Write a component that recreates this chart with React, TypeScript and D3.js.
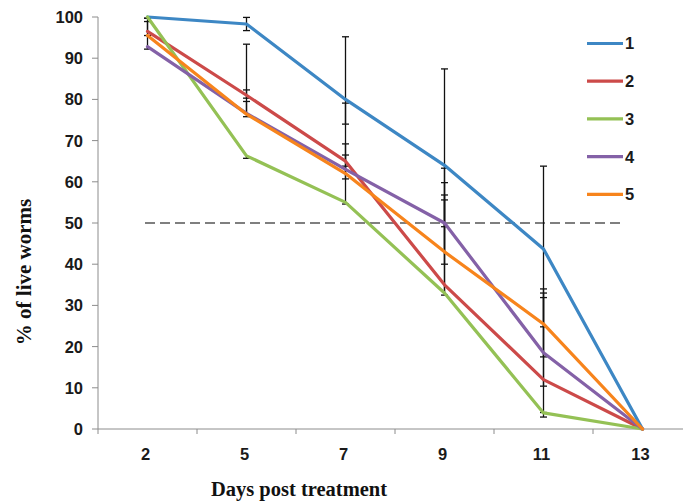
import React from "react";
import * as d3 from "d3";

const days = ["2", "5", "7", "9", "11", "13"];
const yTicks = [0, 10, 20, 30, 40, 50, 60, 70, 80, 90, 100];
const seriesNames = ["1", "2", "3", "4", "5"];
const seriesColors = ["#3d87c4", "#cc4a49", "#94c155", "#8461a7", "#f7841c"];

const s1 = [100, 98.3, 80, 64, 43.7, 0];
const s2 = [96.5, 81, 65, 35, 12, 0];
const s3 = [100, 66.3, 55, 33, 3.9, 0];
const s4 = [92.8, 76.6, 63, 50, 18.5, 0];
const s5 = [95.5, 76.4, 62, 43, 25.5, 0];

const s1Plus = [0, 1.6, 15.2, 23.4, 20.1, 0];
const s1Minus = [0, 1.6, 6, 24, 18.9, 0];
const s2Plus = [2.4, 12.4, 14.1, 20.6, 19.9, 0];
const s2Minus = [0, 0.7, 0, 2.5, 1.6, 0];
const s3Plus = [0, 0, 8.8, 26.8, 0, 0];
const s3Minus = [0.3, 0.6, 0.4, 0, 1, 0];
const s4Plus = [2.7, 5.7, 6.2, 13.3, 14.5, 0];
const s4Minus = [0.6, 0, 0, 0.9, 14.5, 0];
const s5Plus = [4.2, 3.1, 4.5, 13.8, 8.5, 0];
const s5Minus = [0, 0.6, 1.3, 0, 8, 0];

const seriesValues = [s1, s2, s3, s4, s5];
const plusErr = [s1Plus, s2Plus, s3Plus, s4Plus, s5Plus];
const minusErr = [s1Minus, s2Minus, s3Minus, s4Minus, s5Minus];
const threshold = 50;

export default function App() {
  const W = 683;
  const H = 502;
  const left = 98;
  const top = 17;
  const bottom = 429;
  const x = d3.scaleBand<string>().domain(days).range([left, left + 99 * 6]).padding(0);
  const cx = (d: string) => (x(d) as number) + x.bandwidth() / 2;
  const y = d3.scaleLinear().domain([0, 100]).range([bottom, top]);
  const line = d3
    .line<number>()
    .x((_, i) => cx(days[i]))
    .y((v) => y(v));

  const tickFont = "'Liberation Sans', Arial, sans-serif";
  const titleFont = "'Liberation Serif', 'Times New Roman', serif";
  const cap = 3.5;

  return (
    <svg
      width={W}
      height={H}
      style={{ position: "absolute", left: 0, top: 0, background: "#fff" }}
    >
      {/* axes */}
      <line x1={left} x2={left} y1={top} y2={bottom + 5} stroke="#8c8c8c" strokeWidth={1} />
      <line x1={left} x2={W} y1={bottom} y2={bottom} stroke="#8c8c8c" strokeWidth={1} />
      {yTicks.map((t) => (
        <g key={"yt" + t}>
          <line x1={left - 6} x2={left} y1={y(t)} y2={y(t)} stroke="#8c8c8c" strokeWidth={1} />
          <text
            x={83}
            y={y(t)}
            dy="0.36em"
            textAnchor="end"
            fontFamily={tickFont}
            fontWeight="bold"
            fontSize={16.5}
            fill="#1a1a1a"
          >
            {t}
          </text>
        </g>
      ))}
      {days.slice(1).map((d) => (
        <line
          key={"xt" + d}
          x1={x(d) as number}
          x2={x(d) as number}
          y1={bottom}
          y2={bottom + 5}
          stroke="#8c8c8c"
          strokeWidth={1}
        />
      ))}
      {days.map((d) => (
        <text
          key={"xl" + d}
          x={cx(d) - 2}
          y={460}
          textAnchor="middle"
          fontFamily={tickFont}
          fontWeight="bold"
          fontSize={16.5}
          fill="#1a1a1a"
        >
          {d}
        </text>
      ))}
      <text
        x={299}
        y={496}
        textAnchor="middle"
        fontFamily={titleFont}
        fontWeight="bold"
        fontSize={20.5}
        fill="#111"
      >
        Days post treatment
      </text>
      <text
        transform={`translate(31,272) rotate(-90)`}
        textAnchor="middle"
        fontFamily={titleFont}
        fontWeight="bold"
        fontSize={21}
        fill="#111"
      >
        % of live worms
      </text>

      {/* threshold */}
      <line
        x1={145}
        x2={622}
        y1={y(threshold)}
        y2={y(threshold)}
        stroke="#555"
        strokeWidth={1.5}
        strokeDasharray="10 5"
      />

      {/* error bars */}
      {seriesValues.map((vals, si) => (
        <g key={"eb" + si}>
          {vals.map((v, i) => {
            const up = plusErr[si][i];
            const dn = minusErr[si][i];
            if (up === 0 && dn === 0) return null;
            const xx = cx(days[i]);
            const yTop = y(Math.min(100, v + up));
            const yBot = y(Math.max(0, v - dn));
            return (
              <g key={i}>
                <line x1={xx} x2={xx} y1={yTop} y2={yBot} stroke="#111" strokeWidth={1.3} />
                {up > 0 && (
                  <line x1={xx - cap} x2={xx + cap} y1={yTop} y2={yTop} stroke="#111" strokeWidth={1.3} />
                )}
                {dn > 0 && (
                  <line x1={xx - cap} x2={xx + cap} y1={yBot} y2={yBot} stroke="#111" strokeWidth={1.3} />
                )}
              </g>
            );
          })}
        </g>
      ))}

      {/* lines */}
      {seriesValues.map((vals, si) => (
        <path
          key={"ln" + si}
          d={line(vals) as string}
          fill="none"
          stroke={seriesColors[si]}
          strokeWidth={3.2}
          strokeLinejoin="round"
          strokeLinecap="round"
        />
      ))}

      {/* legend */}
      {seriesNames.map((n, i) => {
        const ly = 43.5 + i * 37.7;
        return (
          <g key={"lg" + n}>
            <line x1={587} x2={623} y1={ly} y2={ly} stroke={seriesColors[i]} strokeWidth={3.2} />
            <text
              x={625}
              y={ly}
              dy="0.36em"
              fontFamily={tickFont}
              fontWeight="bold"
              fontSize={16.5}
              fill="#1a1a1a"
            >
              {n}
            </text>
          </g>
        );
      })}
    </svg>
  );
}
